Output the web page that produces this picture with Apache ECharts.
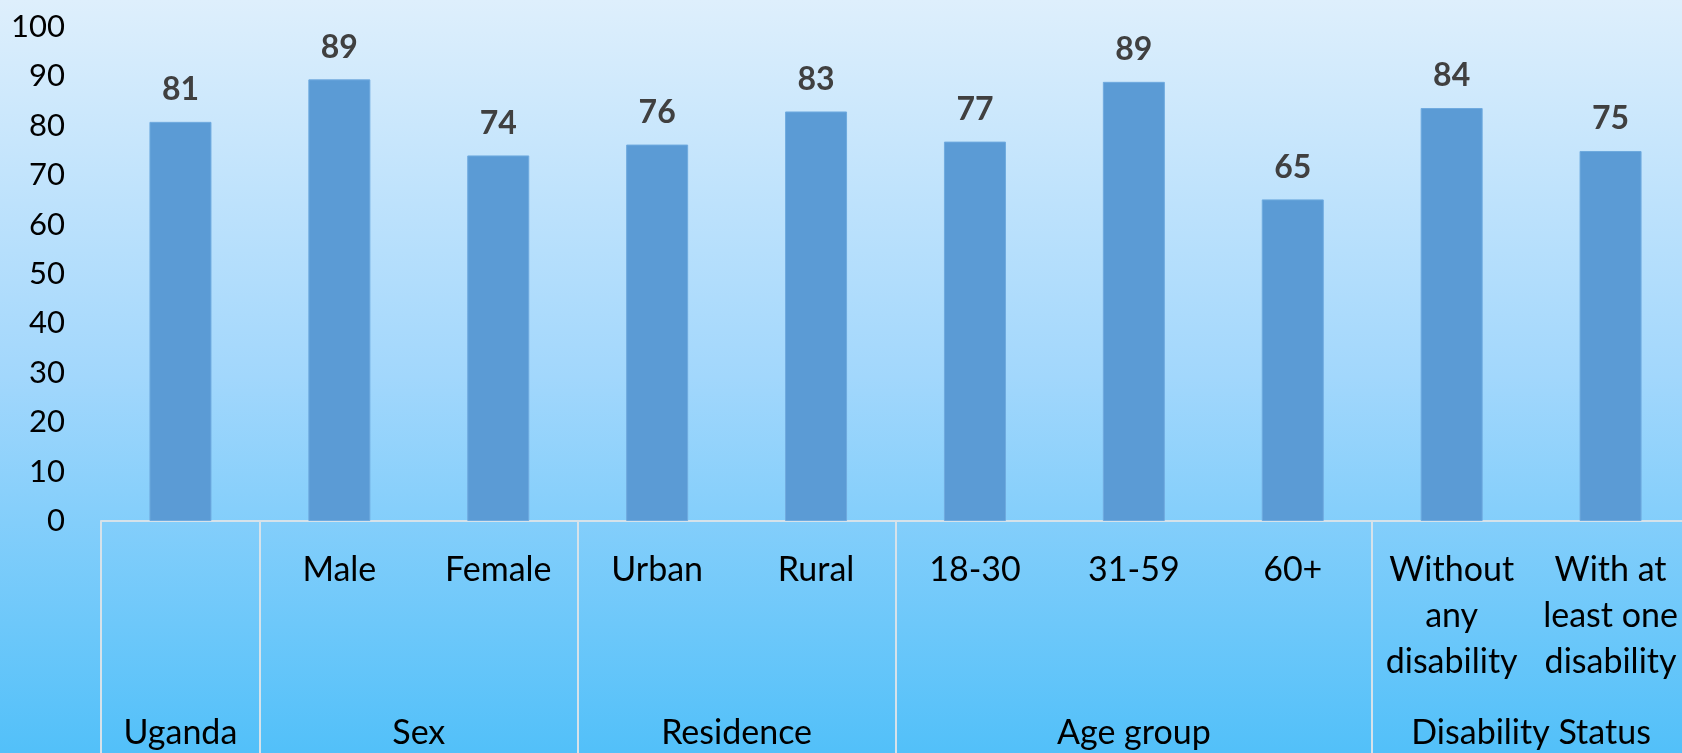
<!DOCTYPE html>
<html>
<head>
<meta charset="utf-8">
<script src="https://cdn.jsdelivr.net/npm/echarts@6/dist/echarts.min.js"></script>
<style>
    html, body { margin: 0; padding: 0; }
    #chart {
        width: 1682px;
        height: 753px;
        background: linear-gradient(to bottom, #deeffc 0%, #a2d7fc 50%, #52c0f9 100%);
    }
</style>
</head>
<body>
<div id="chart"></div>
<script>
// categories under each bar
const categories = ['', 'Male', 'Female', 'Urban', 'Rural', '18-30', '31-59', '60+',
    'Without\nany\ndisability', 'With at\nleast one\ndisability'];
// share (%)
const values = [80.8, 89.4, 74.0, 76.2, 82.9, 76.8, 88.9, 65.1, 83.6, 74.9];
// grouping row
const groups = ['Uganda', 'Sex', 'Residence', 'Age group', 'Disability Status'];
const groupSizes = [1, 2, 2, 3, 2];
const yTicks = [0, 10, 20, 30, 40, 50, 60, 70, 80, 90, 100];

// group boundaries (category index where each group starts)
let groupStarts = [];
let acc = 0;
groupSizes.forEach(n => { groupStarts.push(acc); acc += n; });

// half-category slots so group names sit at their group centre
let groupSlots = new Array(acc * 2 + 1).fill('');
acc = 0;
groups.forEach((g, i) => {
    groupSlots[acc * 2 + groupSizes[i]] = g;
    acc += groupSizes[i];
});

const font = 'Lato, "Open Sans", sans-serif';
const lineColor = '#d6e2ea';

let chart = echarts.init(document.getElementById('chart'), null, { renderer: 'canvas' });
chart.setOption({
    animation: false,
    grid: { left: 101, width: 1589, top: 27, bottom: 232, outerBoundsMode: 'none', containLabel: false },
    xAxis: [
        {
            type: 'category',
            data: categories,
            position: 'bottom',
            axisLine: { show: true, lineStyle: { color: lineColor, width: 2 } },
            axisTick: {
                show: true,
                length: 240,
                interval: (idx) => groupStarts.indexOf(idx) >= 0,
                lineStyle: { color: lineColor, width: 2 }
            },
            axisLabel: {
                interval: 0,
                margin: 26,
                color: '#000',
                fontFamily: font,
                fontSize: 34,
                lineHeight: 46
            }
        },
        {
            type: 'category',
            data: groupSlots,
            boundaryGap: false,
            position: 'bottom',
            axisLine: { show: false },
            axisTick: { show: false },
            axisLabel: {
                interval: 0,
                margin: 195,
                color: '#000',
                fontFamily: font,
                fontSize: 34
            }
        }
    ],
    yAxis: {
        type: 'value',
        min: yTicks[0],
        max: yTicks[yTicks.length - 1],
        interval: 10,
        splitLine: { show: false },
        axisLine: { show: false },
        axisTick: { show: false },
        axisLabel: {
            margin: 36,
            color: '#000',
            fontFamily: font,
            fontSize: 31
        }
    },
    series: [{
        type: 'bar',
        data: values,
        barWidth: 62,
        itemStyle: { color: '#5b9bd5', borderColor: '#6faadf', borderWidth: 1 },
        label: {
            show: true,
            position: 'top',
            distance: 16,
            color: '#404040',
            fontWeight: 'bold',
            fontFamily: font,
            fontSize: 32,
            formatter: p => Math.round(p.value)
        }
    }]
});
</script>
</body>
</html>
